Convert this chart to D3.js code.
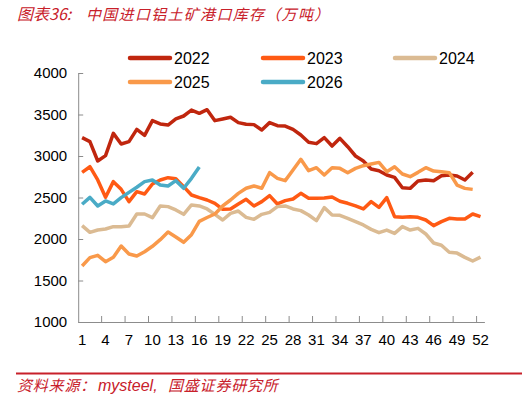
<!DOCTYPE html>
<html><head><meta charset="utf-8">
<script src="https://cdn.jsdelivr.net/npm/d3@7"></script>
<style>
html,body{margin:0;padding:0;background:#fff;}
svg{display:block;}
</style></head>
<body>
<script>
const weeks = d3.range(1, 53);
const xTickLabels = [1,4,7,10,13,16,19,22,25,28,31,34,37,40,43,46,49,52];
const yTickValues = [1000,1500,2000,2500,3000,3500,4000];
const seriesNames = ["2022","2023","2024","2025","2026"];
const seriesColors = ["#c0260e","#ff5a14","#dbbb93","#f9994a","#4aabc6"];

const v2022 = [3221,3173,2940,3004,3273,3145,3173,3321,3249,3426,
  3386,3373,3446,3482,3554,3514,3558,3426,3446,3466,
  3402,3382,3378,3313,3402,3365,3361,3321,3253,3165,
  3149,3221,3120,3213,3112,3000,2940,2843,2823,2771,
  2743,2618,2610,2698,2711,2703,2763,2771,2759,2711,2803];
const v2023 = [2803,2871,2711,2502,2691,2598,2450,2570,2542,2663,
  2711,2739,2727,2631,2530,2498,2470,2430,2358,2362,
  2422,2478,2398,2450,2522,2422,2462,2482,2550,2490,
  2490,2494,2506,2455,2430,2398,2362,2450,2382,2498,
  2269,2261,2269,2261,2229,2161,2209,2249,2241,2241,2301,2269];
const v2024 = [2161,2080,2108,2120,2149,2149,2157,2301,2301,2257,
  2398,2390,2350,2297,2410,2398,2362,2297,2229,2309,
  2337,2261,2237,2297,2321,2390,2398,2362,2342,2289,
  2221,2378,2289,2285,2249,2209,2169,2116,2076,2108,
  2068,2149,2108,2128,2060,1952,1925,1840,1830,1779,1735,1782];
const v2025 = [1675,1775,1803,1727,1779,1916,1819,1795,1847,1912,
  1992,2084,2024,1960,2052,2213,2259,2301,2398,2470,
  2550,2611,2639,2611,2799,2731,2703,2831,2960,2823,
  2859,2771,2859,2851,2799,2851,2883,2903,2923,2811,
  2871,2783,2751,2803,2859,2819,2811,2799,2650,2610,2598];
const v2026 = [2418,2502,2398,2458,2422,2498,2562,2623,2691,2711,
  2651,2639,2703,2611,2731,2868];

const seriesValues = [v2022, v2023, v2024, v2025, v2026];

const W = 526, H = 400;
const svg = d3.select("body").append("svg").attr("width", W).attr("height", H);

const x = d3.scaleBand().domain(weeks).range([78.2, 484.4]).padding(0);
const y = d3.scaleLinear().domain([1000, 4000]).range([322, 73]);
const cx = w => x(w) + x.bandwidth() / 2;

const numFont = "'Liberation Sans', Arial, sans-serif";
const cjkFont = "'Noto Sans CJK SC', sans-serif";
const axisColor = "#8c8c8c";
const red = "#c8202a";

// title
const title = svg.append("text")
  .attr("y", 20)
  .attr("font-family", cjkFont)
  .attr("font-size", 15).attr("font-style", "italic")
  .attr("fill", red);
title.append("tspan").attr("x", 17).attr("font-size", 16).text("图表36:");
title.append("tspan").attr("x", 86).attr("letter-spacing", 1.3).text("中国进口铝土矿港口库存（万吨）");

// y axis
const gy = svg.append("g").attr("transform", "translate(78.2,0)")
  .call(d3.axisLeft(y).tickValues(yTickValues).tickSize(-5).tickSizeOuter(0).tickPadding(11).tickFormat(d3.format("d")));
gy.select(".domain").attr("stroke", axisColor);
gy.selectAll(".tick line").attr("stroke", axisColor);
gy.selectAll("text").attr("font-family", numFont).attr("font-size", 15).attr("fill", "#000");

// x axis
const gx = svg.append("g").attr("transform", "translate(0,322)")
  .call(d3.axisBottom(x).tickValues(xTickLabels).tickSize(0).tickSizeOuter(0).tickPadding(12));
gx.select(".domain").attr("stroke", axisColor);
gx.selectAll("text").attr("font-family", numFont).attr("font-size", 15).attr("fill", "#000");
// boundary ticks every 3 weeks
gx.selectAll("line.bt").data(d3.range(3, 52, 3)).enter().append("line")
  .attr("class", "bt")
  .attr("x1", d => x(d) + x.bandwidth()).attr("x2", d => x(d) + x.bandwidth())
  .attr("y1", 0).attr("y2", -6)
  .attr("stroke", axisColor);

// lines
const line = d3.line().x((d, i) => cx(weeks[i])).y(d => y(d)).curve(d3.curveLinear);
seriesValues.forEach((vals, k) => {
  svg.append("path").datum(vals)
    .attr("d", line)
    .attr("fill", "none")
    .attr("stroke", seriesColors[k])
    .attr("stroke-width", 3.5)
    .attr("stroke-linejoin", "round")
    .attr("stroke-linecap", "butt");
});

// legend
const legendPos = [[130,58],[263,58],[395,58],[130,82],[263,82]];
seriesNames.forEach((name, k) => {
  const [lx, ly] = legendPos[k];
  svg.append("line").attr("x1", lx).attr("x2", lx + 40).attr("y1", ly).attr("y2", ly)
    .attr("stroke", seriesColors[k]).attr("stroke-width", 4.5).attr("stroke-linecap", "round");
  svg.append("text").attr("x", lx + 44).attr("y", ly).attr("dy", "0.36em")
    .attr("font-family", numFont).attr("font-size", 16).attr("fill", "#000")
    .text(name);
});

// footer
svg.append("line").attr("x1", 16).attr("x2", 522).attr("y1", 373.5).attr("y2", 373.5)
  .attr("stroke", red).attr("stroke-width", 2);
const foot = svg.append("text")
  .attr("y", 391)
  .attr("font-family", cjkFont)
  .attr("font-size", 15).attr("font-style", "italic")
  .attr("fill", red);
foot.append("tspan").attr("x", 17).attr("letter-spacing", 0.8).text("资料来源：");
foot.append("tspan").attr("x", 98).attr("font-family", numFont).attr("font-size", 16).text("mysteel,");
foot.append("tspan").attr("x", 168).attr("letter-spacing", 0.8).text("国盛证券研究所");
</script>
</body></html>
